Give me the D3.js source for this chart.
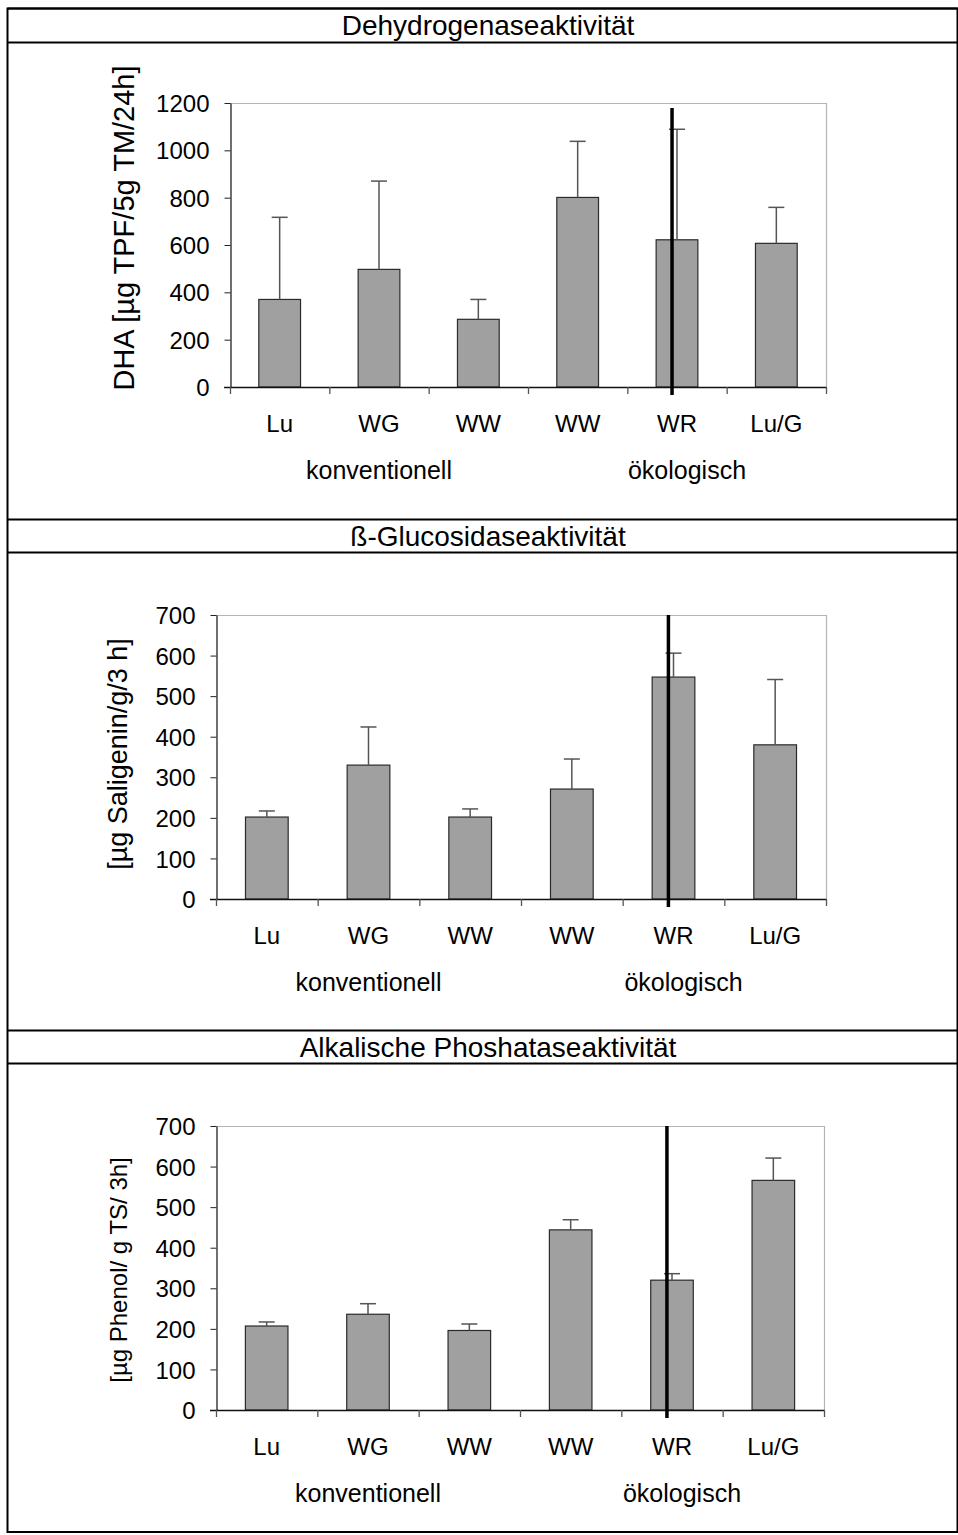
<!DOCTYPE html>
<html>
<head>
<meta charset="utf-8">
<script src="https://cdn.jsdelivr.net/npm/d3@7"></script>
<style>
  body { margin: 0; background: #fff; }
  svg { display: block; font-family: "Liberation Sans", Arial, sans-serif; }
</style>
</head>
<body>
<svg id="chart" width="958" height="1535"></svg>
<script>
// categories (two WW columns, so the band scale uses the index)
const categories = ["Lu", "WG", "WW", "WW", "WR", "Lu/G"];
const groups = ["konventionell", "ökologisch"];

const titles = ["Dehydrogenaseaktivität", "ß-Glucosidaseaktivität", "Alkalische Phoshataseaktivität"];
const yLabels = ["DHA [µg TPF/5g TM/24h]", "[µg Saligenin/g/3 h]", "[µg Phenol/ g TS/ 3h]"];

// Dehydrogenase
const dhaMeans = [370, 497, 286, 801, 622, 607];
const dhaErrors = [347, 373, 84, 237, 467, 152];
const dhaTicks = [0, 200, 400, 600, 800, 1000, 1200];

// ß-Glucosidase
const glucMeans = [202, 330, 202, 271, 547, 380];
const glucErrors = [15, 94, 20, 74, 59, 161];
const glucTicks = [0, 100, 200, 300, 400, 500, 600, 700];

// Alkalische Phosphatase
const phosMeans = [207, 236, 196, 444, 320, 566];
const phosErrors = [10, 26, 16, 25, 16, 55];
const phosTicks = [0, 100, 200, 300, 400, 500, 600, 700];

const svg = d3.select('#chart');
const tableLeft = 7.5, tableRight = 957.5;

const panels = [
    {top: 8, titleBottom: 42, bottom: 519, plot: {left: 230, right: 826, top: 103, bottom: 387},
     means: dhaMeans, errors: dhaErrors, ticks: dhaTicks, labelX: 125, labelSize: 29, labelShift: -17},
    {top: 519, titleBottom: 552, bottom: 1030, plot: {left: 216, right: 826, top: 615, bottom: 899},
     means: glucMeans, errors: glucErrors, ticks: glucTicks, labelX: 118, labelSize: 27, labelShift: -3},
    {top: 1030, titleBottom: 1063, bottom: 1532, plot: {left: 216, right: 824, top: 1126, bottom: 1410},
     means: phosMeans, errors: phosErrors, ticks: phosTicks, labelX: 118, labelSize: 24, labelShift: 2}
];

// outer table frame
svg.append('rect')
    .attr('x', tableLeft).attr('y', 8.5)
    .attr('width', tableRight - tableLeft).attr('height', 1532 - 8.5)
    .attr('fill', 'none').attr('stroke', '#000').attr('stroke-width', 2);

panels.forEach((p, i) => {
    // table rows
    [p.top, p.titleBottom].forEach(y => {
        svg.append('line')
            .attr('x1', tableLeft).attr('x2', tableRight)
            .attr('y1', y + 0.5).attr('y2', y + 0.5)
            .attr('stroke', '#000').attr('stroke-width', 2);
    });

    svg.append('text')
        .attr('x', 488)
        .attr('y', (p.top + p.titleBottom) / 2 + 10)
        .attr('text-anchor', 'middle')
        .style('font-size', '28px')
        .text(titles[i]);

    const x = d3.scaleBand()
        .domain(d3.range(categories.length))
        .range([p.plot.left, p.plot.right])
        .paddingInner(0).paddingOuter(0);
    const y = d3.scaleLinear()
        .domain([0, d3.max(p.ticks)])
        .range([p.plot.bottom, p.plot.top]);

    const g = svg.append('g');

    // light grey frame top and right
    g.append('path')
        .attr('d', `M${p.plot.left},${p.plot.top + 0.5}H${p.plot.right + 0.5}V${p.plot.bottom}`)
        .attr('fill', 'none').attr('stroke', '#b4b4b4').attr('stroke-width', 1.2);

    // y axis
    const yAxis = d3.axisLeft(y).tickValues(p.ticks).tickFormat(d3.format('d'))
        .tickSize(6).tickPadding(15).tickSizeOuter(0);
    g.append('g')
        .attr('transform', `translate(${p.plot.left + 0.5},0)`)
        .call(yAxis)
        .call(a => a.select('.domain').attr('stroke', '#222').attr('stroke-width', 1.3))
        .call(a => a.selectAll('.tick line').attr('stroke', '#222'))
        .call(a => a.selectAll('.tick text').style('font-size', '24px').attr('fill', '#000')
            .attr('dy', '0.36em').style('font-family', '"Liberation Sans", Arial, sans-serif'));

    // bars
    const barW = x.bandwidth() * 0.42;
    g.selectAll('.bar')
        .data(p.means)
        .join('rect')
        .attr('class', 'bar')
        .attr('x', (d, j) => x(j) + (x.bandwidth() - barW) / 2)
        .attr('width', barW)
        .attr('y', d => y(d))
        .attr('height', d => y(0) - y(d))
        .attr('fill', '#a0a0a0')
        .attr('stroke', '#2a2a2a')
        .attr('stroke-width', 1.2);

    // error bars (upper half only)
    const capW = 16;
    const err = g.selectAll('.err')
        .data(p.means.map((m, j) => ({m, e: p.errors[j], j})))
        .join('g').attr('class', 'err')
        .attr('stroke', '#555').attr('stroke-width', 1.5);
    err.append('line')
        .attr('x1', d => x(d.j) + x.bandwidth() / 2).attr('x2', d => x(d.j) + x.bandwidth() / 2)
        .attr('y1', d => y(d.m)).attr('y2', d => y(d.m + d.e));
    err.append('line')
        .attr('x1', d => x(d.j) + x.bandwidth() / 2 - capW / 2).attr('x2', d => x(d.j) + x.bandwidth() / 2 + capW / 2)
        .attr('y1', d => y(d.m + d.e)).attr('y2', d => y(d.m + d.e));

    // x axis: ticks at category boundaries
    const boundaries = d3.range(categories.length + 1).map(j => j < categories.length ? x(j) : p.plot.right);
    g.append('line')
        .attr('x1', p.plot.left - 6).attr('x2', p.plot.right + 0.5)
        .attr('y1', p.plot.bottom + 0.5).attr('y2', p.plot.bottom + 0.5)
        .attr('stroke', '#111').attr('stroke-width', 1.4);
    g.selectAll('.xtick')
        .data(boundaries)
        .join('line')
        .attr('class', 'xtick')
        .attr('x1', d => d + 0.5).attr('x2', d => d + 0.5)
        .attr('y1', p.plot.bottom).attr('y2', p.plot.bottom + 7)
        .attr('stroke', '#555').attr('stroke-width', 1.3);

    g.selectAll('.xlabel')
        .data(categories)
        .join('text')
        .attr('class', 'xlabel')
        .attr('x', (d, j) => x(j) + x.bandwidth() / 2)
        .attr('y', p.plot.bottom + 45)
        .attr('text-anchor', 'middle')
        .style('font-size', '24px')
        .text(d => d);

    // group labels below the category labels
    const half = categories.length / 2;
    g.selectAll('.group')
        .data(groups)
        .join('text')
        .attr('class', 'group')
        .attr('x', (d, j) => (boundaries[j * half] + boundaries[(j + 1) * half]) / 2 + (j === 1 ? 10 : 0))
        .attr('y', p.plot.bottom + 92)
        .attr('text-anchor', 'middle')
        .style('font-size', '25px')
        .text(d => d);

    // y axis title
    g.append('text')
        .attr('transform', `translate(${p.labelX + 9},${(p.plot.top + p.plot.bottom) / 2 + p.labelShift}) rotate(-90)`)
        .attr('text-anchor', 'middle')
        .style('font-size', p.labelSize + 'px')
        .text(yLabels[i]);

    // thick black vertical marker line through the WR column
    const markerX = x(4) + x.bandwidth() * 0.45;
    g.append('line')
        .attr('x1', markerX).attr('x2', markerX)
        .attr('y1', p.plot.top + (i === 0 ? 5 : 0)).attr('y2', p.plot.bottom + 8)
        .attr('stroke', '#000').attr('stroke-width', 3.5);
});
</script>
</body>
</html>
